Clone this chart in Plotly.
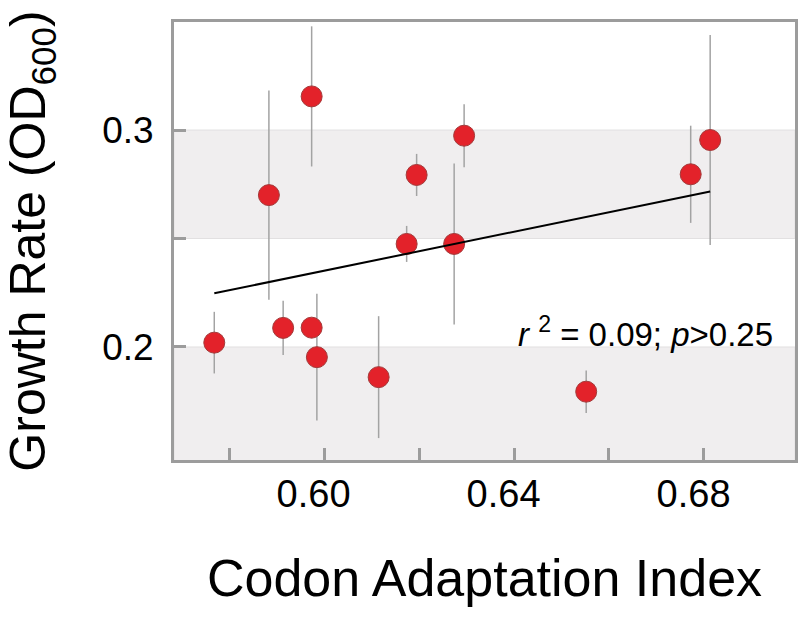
import numpy as np
import plotly.graph_objects as go

# ---- data ----
cai = [0.5769, 0.5884, 0.5914, 0.5974, 0.5974, 0.5985, 0.6115,
       0.6174, 0.6195, 0.6274, 0.6295, 0.6552, 0.6772, 0.6813]
growth = [0.2020, 0.2700, 0.2088, 0.3155, 0.2089, 0.1953, 0.1861,
          0.2475, 0.2793, 0.2475, 0.2974, 0.1794, 0.2796, 0.2954]
growth_err = [0.0142, 0.0482, 0.0125, 0.0323, 0.0040, 0.0292, 0.0281,
              0.0083, 0.0097, 0.0371, 0.0145, 0.0098, 0.0224, 0.0484]

x_tickvals = [0.58, 0.60, 0.62, 0.64, 0.66, 0.68]
x_labelvals = [0.60, 0.64, 0.68]
x_labeltext = ["0.60", "0.64", "0.68"]
y_labelvals = [0.20, 0.30]
y_labeltext = ["0.2", "0.3"]
y_minorvals = [0.25]
bands = [(0.10, 0.20), (0.25, 0.30)]
annot_text = "<i>r</i> <sup>2</sup> = 0.09; <i>p</i>>0.25"

x_range = [0.56842, 0.69916]
y_range = [0.1479, 0.3498]
label_shift = 0.0022  # tick labels sit slightly left of their ticks in the reference

FONT = "Liberation Sans, Arial, Helvetica, sans-serif"
FRAME = "#9c9c9c"

# regression line from the data
slope, intercept = np.polyfit(cai, growth, 1)
fit_x = [min(cai), max(cai)]
fit_y = [slope * v + intercept for v in fit_x]

fig = go.Figure()

fig.add_trace(go.Scatter(
    x=cai, y=growth, mode="markers",
    marker=dict(size=21, color="#E3222A", line=dict(color="#A33A3A", width=1)),
    error_y=dict(type="data", array=growth_err, visible=True,
                 color="#a3a3a3", thickness=1.5, width=0),
    showlegend=False, hoverinfo="skip",
))
fig.add_trace(go.Scatter(
    x=fit_x, y=fit_y, mode="lines",
    line=dict(color="black", width=2),
    showlegend=False, hoverinfo="skip",
))
# empty trace to carry the label axis
fig.add_trace(go.Scatter(x=[], y=[], xaxis="x2", yaxis="y",
                         showlegend=False, hoverinfo="skip"))

for lo, hi in bands:
    fig.add_shape(type="rect", xref="paper", x0=0, x1=1, yref="y", y0=lo, y1=hi,
                  fillcolor="#F0EEEF", line=dict(color="#e2e0e1", width=1),
                  layer="below")

fig.add_annotation(x=0.6950, y=0.2068, xref="x", yref="y", text=annot_text,
                   showarrow=False, xanchor="right", yanchor="middle",
                   font=dict(family=FONT, size=33, color="black"))

fig.update_layout(
    width=799, height=617,
    margin=dict(l=174, r=4, t=22, b=157),
    paper_bgcolor="white", plot_bgcolor="white",
    font=dict(family=FONT, color="black"),
    xaxis=dict(
        range=x_range, tickmode="array", tickvals=x_tickvals,
        showticklabels=False, automargin=False,
        ticks="inside", ticklen=12, tickwidth=3, tickcolor=FRAME,
        showline=True, linewidth=3, linecolor=FRAME, mirror=True,
        showgrid=False, zeroline=False,
    ),
    xaxis2=dict(
        range=[x_range[0] + label_shift, x_range[1] + label_shift],
        overlaying="x", anchor="y", side="bottom", automargin=False,
        tickmode="array", tickvals=x_labelvals, ticktext=x_labeltext,
        ticks="", showline=False, showgrid=False, zeroline=False,
        tickfont=dict(family=FONT, size=38, color="black"),
        ticklabelstandoff=8,
        title=dict(text="Codon Adaptation Index",
                   font=dict(family=FONT, size=52, color="black"), standoff=45),
    ),
    yaxis=dict(
        range=y_range, tickmode="array", tickvals=y_labelvals, ticktext=y_labeltext,
        automargin=False,
        ticks="inside", ticklen=12, tickwidth=3, tickcolor=FRAME,
        minor=dict(tickvals=y_minorvals, ticks="inside", ticklen=12,
                   tickwidth=3, tickcolor=FRAME, showgrid=False),
        showline=True, linewidth=3, linecolor=FRAME, mirror=True,
        showgrid=False, zeroline=False,
        tickfont=dict(family=FONT, size=37, color="black"),
        ticklabelstandoff=10,
        title=dict(text="Growth Rate (OD<sub>600</sub>)",
                   font=dict(family=FONT, size=50, color="black"), standoff=55),
    ),
)

fig.write_html("out.html", config={"displayModeBar": False},
               post_script="document.body.style.margin='0';document.body.style.overflow='hidden';")
